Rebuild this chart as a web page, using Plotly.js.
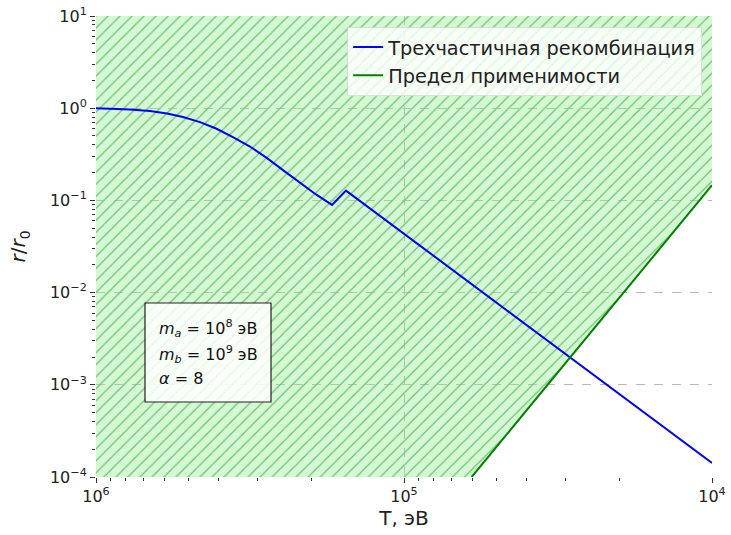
<!DOCTYPE html>
<html>
<head>
<meta charset="utf-8">
<script src="https://cdn.plot.ly/plotly-3.0.1.min.js"></script>
<style>html,body{margin:0;padding:0;background:#fff;}</style>
</head>
<body>
<div id="chart" style="width:731px;height:535px;"></div>
<script>
// Blue curve: three-body recombination, r/r0 vs T (eV)
const recombT = [1e6, 881000, 775600, 667900, 588300, 521900, 459500, 407700, 359300, 316200, 278400, 247100, 217600, 193100, 171300, 154300, 1e4];
const recombR = [1.0, 0.991, 0.969, 0.931, 0.875, 0.802, 0.706, 0.602, 0.487, 0.384, 0.287, 0.213, 0.155, 0.116, 0.0894, 0.1277, 1.42e-4];

// Green line: applicability limit
const limitT = [60300, 1e4];
const limitR = [1e-4, 0.146];

// Axis ranges and tick labels
const xRange = [1e6, 1e4];
const yRange = [1e-4, 10];
const xTickVals = [1e6, 1e5, 1e4];
const xTickText = ['10<sup>6</sup>', '10<sup>5</sup>', '10<sup>4</sup>'];
const yTickVals = [1e-4, 1e-3, 1e-2, 1e-1, 1, 10];
const yTickText = ['10<sup>−4</sup>', '10<sup>−3</sup>', '10<sup>−2</sup>', '10<sup>−1</sup>', '10<sup>0</sup>', '10<sup>1</sup>'];

const legendNames = ['Трехчастичная рекомбинация', 'Предел применимости'];
const infoLines = [
  '<i>m</i><sub><i>a</i></sub> = 10<sup>8</sup> эВ',
  '<i>m</i><sub><i>b</i></sub> = 10<sup>9</sup> эВ',
  '<i>α</i> = 8'
];

// Shaded (allowed) region above the limit line
const regionX = [xRange[0]].concat(limitT, [xRange[1], xRange[0]]);
const regionY = [yRange[0]].concat(limitR, [yRange[1], yRange[1]]);

const FONT = 'DejaVu Sans, sans-serif';

const traces = [
  {
    x: regionX, y: regionY, mode: 'none', fill: 'toself',
    fillcolor: 'rgba(144,238,144,0.4)',
    fillpattern: {shape: '/', size: 8.5, solidity: 0.15, fgcolor: '#70c270', bgcolor: 'rgba(144,238,144,0.4)'},
    showlegend: false, hoverinfo: 'skip'
  },
  {
    x: recombT, y: recombR, mode: 'lines', name: legendNames[0],
    line: {color: '#0000ff', width: 2}
  },
  {
    x: limitT, y: limitR, mode: 'lines', name: legendNames[1],
    line: {color: '#008000', width: 2}
  }
];

const axisCommon = {
  type: 'log',
  showline: false,
  ticks: 'outside', ticklen: 5, tickwidth: 1, tickcolor: '#333',
  tickmode: 'array',
  tickfont: {family: FONT, size: 16, color: '#222'},
  showgrid: true, gridcolor: '#b8b8b8', griddash: 'dash', gridwidth: 1,
  minor: {ticks: 'outside', ticklen: 3, tickwidth: 1, tickcolor: '#333', dtick: 'D1', showgrid: false}
};

const lineY = [328, 354, 378].map(py => 1 - (py - 16) / 461);

const annotations = infoLines.map((t, i) => ({
  xref: 'paper', yref: 'paper', x: (157 - 96) / 616, y: lineY[i],
  xanchor: 'left', yanchor: 'middle', showarrow: false, align: 'left',
  text: t, font: {family: FONT, size: 16, color: '#111'}
}));

const layout = {
  width: 731, height: 535,
  margin: {l: 96, r: 19, t: 16, b: 58},
  paper_bgcolor: '#fff', plot_bgcolor: '#fff',
  font: {family: FONT, color: '#222'},
  xaxis: Object.assign({}, axisCommon, {
    range: [Math.log10(xRange[0]), Math.log10(xRange[1])],
    tickvals: xTickVals, ticktext: xTickText,
    title: {text: 'T, эВ', font: {family: FONT, size: 20, color: '#222'}, standoff: 4}
  }),
  yaxis: Object.assign({}, axisCommon, {
    range: [Math.log10(yRange[0]), Math.log10(yRange[1])],
    tickvals: yTickVals, ticktext: yTickText,
    title: {text: '<i>r</i>/<i>r</i><sub>0</sub>', font: {family: FONT, size: 20, color: '#222'}, standoff: 18}
  }),
  legend: {
    x: 0.984, y: 0.976, xanchor: 'right', yanchor: 'top',
    bgcolor: 'rgba(255,255,255,0.8)', bordercolor: 'rgba(215,215,215,0.8)', borderwidth: 1,
    font: {family: FONT, size: 19.3, color: '#222'}
  },
  shapes: [{
    type: 'rect', xref: 'paper', yref: 'paper', layer: 'above',
    x0: (145 - 96) / 616, x1: (271 - 96) / 616,
    y0: 1 - (402 - 16) / 461, y1: 1 - (303 - 16) / 461,
    fillcolor: 'rgba(255,255,255,0.85)', line: {color: '#222', width: 1.2}
  }],
  annotations: annotations
};

Plotly.newPlot('chart', traces, layout, {displayModeBar: false, staticPlot: true});
</script>
</body>
</html>
